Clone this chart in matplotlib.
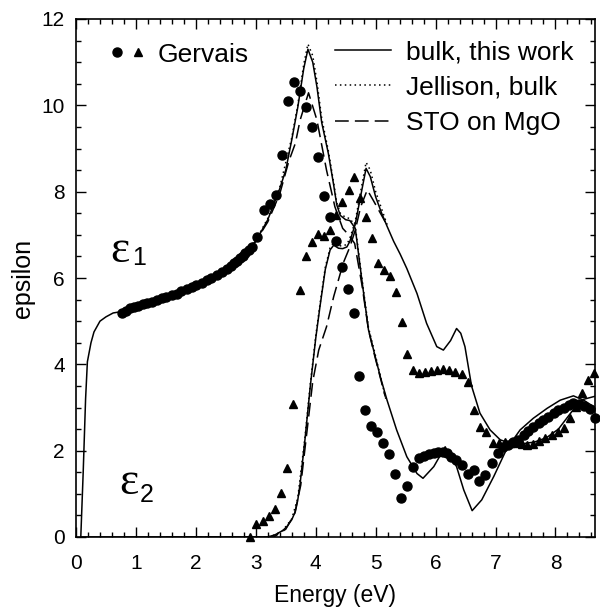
#! /usr/bin/env python3

import matplotlib
matplotlib.use('Agg')
import matplotlib.pyplot as plt
from matplotlib.legend_handler import HandlerTuple
from matplotlib.ticker import MultipleLocator
from matplotlib.lines import Line2D


# bulk, this work (solid)
bulk_e1_x = [0.08, 0.12, 0.16, 0.19, 0.25, 0.3, 0.4, 0.5, 0.62, 0.75, 1.0, 1.25, 1.5, 1.75,
             2.0, 2.25, 2.5, 2.75, 3.0, 3.2, 3.4, 3.5, 3.6, 3.7, 3.8, 3.87, 3.95, 4.02, 4.1,
             4.21, 4.3, 4.35, 4.41, 4.5, 4.57, 4.66, 4.77, 4.88, 4.98, 5.08, 5.19, 5.35, 5.52,
             5.69, 5.79, 5.97, 6.16, 6.35, 6.47, 6.61, 6.77, 6.97, 7.19, 7.41, 7.63, 7.86,
             8.08, 8.3, 8.47, 8.66]
bulk_e1_y = [0.0, 1.5, 3.2, 4.06, 4.5, 4.75, 5.0, 5.1, 5.19, 5.22, 5.33, 5.43, 5.55, 5.69,
             5.84, 6.01, 6.2, 6.47, 6.85, 7.35, 8.07, 8.5, 9.2, 9.95, 10.85, 11.3, 11.0, 10.43,
             9.6, 8.89, 8.15, 7.7, 7.45, 7.35, 7.33, 7.15, 5.95, 4.8, 4.25, 3.7, 3.17, 2.48,
             1.86, 1.47, 1.36, 1.63, 2.09, 1.63, 1.09, 0.61, 0.86, 1.4, 2.05, 2.48, 2.75, 2.98,
             3.17, 3.27, 3.17, 3.0]
bulk_e2_x = [0.08, 3.2, 3.32, 3.45, 3.52, 3.6, 3.66, 3.7, 3.74, 3.82, 3.91, 4.0, 4.07, 4.16,
             4.24, 4.3, 4.38, 4.45, 4.52, 4.57, 4.66, 4.75, 4.84, 4.91, 5.0, 5.1, 5.19, 5.3,
             5.41, 5.52, 5.69, 5.85, 6.02, 6.13, 6.25, 6.35, 6.42, 6.49, 6.6, 6.74, 6.91, 7.08,
             7.25, 7.45, 7.65, 7.85, 8.05, 8.27, 8.47, 8.66]
bulk_e2_y = [0.0, 0.0, 0.05, 0.15, 0.24, 0.4, 0.59, 0.85, 1.24, 2.25, 3.5, 4.6, 5.33, 6.2,
             6.65, 6.76, 6.69, 6.68, 6.72, 6.85, 7.25, 7.9, 8.54, 8.35, 7.88, 7.5, 7.2, 6.85,
             6.55, 6.22, 5.64, 4.95, 4.41, 4.33, 4.55, 4.83, 4.72, 4.41, 3.5, 2.87, 2.48, 2.25,
             2.17, 2.16, 2.2, 2.3, 2.5, 2.9, 3.19, 3.26]

# Jellison, bulk (dotted)
jel_e1_x = [1.5, 2.0, 2.5, 3.0, 3.2, 3.4, 3.6, 3.7, 3.8, 3.87, 3.95, 4.02, 4.1, 4.21, 4.3,
            4.35, 4.41, 4.5, 4.57, 4.66, 4.77, 4.88, 4.98, 5.08, 5.17]
jel_e1_y = [5.55, 5.85, 6.22, 6.87, 7.38, 8.1, 9.25, 10.0, 10.95, 11.42, 11.15, 10.55, 9.7,
            8.95, 8.2, 7.75, 7.5, 7.4, 7.38, 7.2, 6.0, 4.85, 4.3, 3.72, 3.2]
jel_e2_x = [1.5, 3.2, 3.32, 3.45, 3.6, 3.7, 3.82, 3.91, 4.0, 4.07, 4.16, 4.24, 4.3, 4.38,
            4.45, 4.52, 4.57, 4.66, 4.75, 4.84, 4.91, 5.0, 5.1, 5.2]
jel_e2_y = [0.0, 0.0, 0.05, 0.15, 0.42, 0.9, 2.3, 3.55, 4.65, 5.38, 6.25, 6.7, 6.82, 6.75,
            6.74, 6.78, 6.92, 7.32, 8.0, 8.68, 8.5, 8.0, 7.6, 7.2]

# STO on MgO (dashed)
mgo_e1_x = [1.5, 2.0, 2.5, 3.0, 3.2, 3.4, 3.55, 3.66, 3.74, 3.88, 4.02, 4.18, 4.32, 4.45,
            4.55, 4.65, 4.77, 4.88, 4.98, 5.08, 5.16]
mgo_e1_y = [5.55, 5.84, 6.2, 6.85, 7.3, 7.95, 8.7, 9.12, 9.66, 10.29, 9.66, 8.5, 7.65, 7.15,
            7.0, 6.8, 5.85, 4.8, 4.22, 3.68, 3.25]
mgo_e2_x = [1.5, 3.3, 3.5, 3.65, 3.75, 3.85, 3.95, 4.05, 4.18, 4.3, 4.46, 4.57, 4.66, 4.75,
            4.86, 4.96, 5.06, 5.16]
mgo_e2_y = [0.0, 0.0, 0.18, 0.55, 1.2, 2.4, 3.6, 4.33, 4.87, 5.57, 6.35, 6.72, 7.11, 7.65,
            8.04, 7.8, 7.55, 7.3]

# Gervais: eps1 (circles)
gerv_e1_x = [0.76, 0.83, 0.9, 0.97, 1.04, 1.11, 1.18, 1.26, 1.35, 1.43,
             1.51, 1.6, 1.68, 1.76, 1.85, 1.93, 2.01, 2.1, 2.18, 2.26,
             2.35, 2.43, 2.52, 2.58, 2.63, 2.68, 2.74, 2.78, 2.82, 2.88,
             2.93, 3.02, 3.13, 3.23, 3.33, 3.43, 3.54, 3.64, 3.74, 3.83,
             3.93, 4.03, 4.13, 4.23, 4.34, 4.44, 4.54, 4.64, 4.73, 4.82,
             4.92, 5.03, 5.13, 5.23, 5.33, 5.43, 5.53, 5.63, 5.73, 5.81,
             5.89, 5.97, 6.04, 6.12, 6.19, 6.26, 6.34, 6.44, 6.54, 6.64,
             6.73, 6.83, 6.94, 7.04, 7.12, 7.2, 7.3, 7.38, 7.47, 7.55,
             7.63, 7.72, 7.8, 7.88, 7.97, 8.05, 8.14, 8.22, 8.3, 8.39,
             8.47, 8.57, 8.66]
gerv_e1_y = [5.18, 5.24, 5.30, 5.33, 5.36, 5.39, 5.41, 5.45, 5.49, 5.53,
             5.57, 5.60, 5.64, 5.69, 5.74, 5.79, 5.84, 5.89, 5.95, 6.01,
             6.07, 6.14, 6.22, 6.28, 6.34, 6.40, 6.46, 6.51, 6.57, 6.65,
             6.72, 6.96, 7.57, 7.71, 7.92, 8.86, 10.1, 10.55, 10.33, 9.95,
             9.5, 8.81, 7.9, 7.41, 6.86, 6.25, 5.74, 5.2, 3.73, 2.94,
             2.56, 2.44, 2.18, 1.92, 1.45, 0.91, 1.18, 1.63, 1.82, 1.88,
             1.92, 1.95, 1.98, 1.98, 1.94, 1.86, 1.78, 1.67, 1.46, 1.55,
             1.3, 1.44, 1.71, 1.94, 2.08, 2.13, 2.19, 2.25, 2.36, 2.46,
             2.54, 2.63, 2.71, 2.79, 2.87, 2.94, 3.0, 3.06, 3.1, 3.08,
             3.03, 2.96, 2.76]

# Gervais: eps2 (triangles)
gerv_e2_x = [2.9, 3.0, 3.12, 3.22, 3.32, 3.42, 3.52, 3.62,
             3.73, 3.83, 3.93, 4.03, 4.13, 4.24, 4.34, 4.44, 4.55, 4.64,
             4.74, 4.84, 4.94, 5.04, 5.14, 5.24, 5.34, 5.44, 5.53, 5.63,
             5.73, 5.83, 5.93, 6.03, 6.13, 6.23, 6.33, 6.44, 6.54, 6.64,
             6.74, 6.84, 6.95, 7.05, 7.15, 7.25, 7.35, 7.44, 7.53, 7.63,
             7.73, 7.83, 7.94, 8.04, 8.15, 8.25, 8.35, 8.45, 8.55, 8.65]
gerv_e2_y = [0.0, 0.29, 0.36, 0.49, 0.64, 1.01, 1.61, 3.08,
             5.72, 6.5, 6.84, 7.01, 6.97, 7.11, 7.47, 7.77, 8.04, 8.33,
             7.86, 7.41, 6.93, 6.35, 6.19, 6.05, 5.68, 4.98, 4.25, 3.87,
             3.81, 3.83, 3.85, 3.88, 3.89, 3.88, 3.83, 3.77, 3.6, 2.94,
             2.54, 2.44, 2.18, 2.18, 2.21, 2.18, 2.18, 2.15, 2.12, 2.15,
             2.23, 2.29, 2.36, 2.44, 2.52, 2.75, 3.02, 3.34, 3.64, 3.79]

plt.rcParams['font.family'] = ['Liberation Sans', 'DejaVu Sans']

fig = plt.figure(figsize=(6, 6.08), dpi=100)
ax = fig.add_axes([76 / 600, 71 / 608, 519 / 600, 518 / 608])

lw = 1.1
solid = dict(color='black', lw=lw, ls='-')
dotted = dict(color='black', lw=lw, ls=(0, (1, 2.2)))
dashed = dict(color='black', lw=lw, ls=(0, (9, 4)))

l_bulk, = ax.plot(bulk_e1_x, bulk_e1_y, **solid)
ax.plot(bulk_e2_x, bulk_e2_y, **solid)
l_jel, = ax.plot(jel_e1_x, jel_e1_y, **dotted)
ax.plot(jel_e2_x, jel_e2_y, **dotted)
l_mgo, = ax.plot(mgo_e1_x, mgo_e1_y, **dashed)
ax.plot(mgo_e2_x, mgo_e2_y, **dashed)

ax.plot(gerv_e1_x, gerv_e1_y, 'o', color='black', ms=6.5, clip_on=False)
ax.plot(gerv_e2_x, gerv_e2_y, '^', color='black', ms=6, clip_on=False)

ax.set_xlim(0, 8.66)
ax.set_ylim(0, 12)
ax.xaxis.set_major_locator(MultipleLocator(1))
ax.xaxis.set_minor_locator(MultipleLocator(0.2))
ax.yaxis.set_major_locator(MultipleLocator(2))
ax.yaxis.set_minor_locator(MultipleLocator(0.5))
ax.tick_params(which='both', direction='in', top=True, right=True, width=1.0)
ax.tick_params(which='major', length=7, labelsize=15)
ax.tick_params(axis='x', which='major', pad=12)
ax.tick_params(axis='y', which='major', pad=8)
ax.tick_params(which='minor', length=3.5)
for s in ax.spines.values():
    s.set_linewidth(1.2)

ax.set_xlabel('Energy (eV)', fontsize=16.5, labelpad=8)
ax.set_ylabel('epsilon', fontsize=18, labelpad=5)

# epsilon_1 / epsilon_2 labels
ax.text(0.57, 6.37, '\u03b5', fontsize=33, family='Liberation Serif', va='baseline')
ax.text(0.93, 6.3, '1', fontsize=18, va='baseline')
ax.text(0.72, 1.0, '\u03b5', fontsize=33, family='Liberation Serif', va='baseline')
ax.text(1.07, 0.82, '2', fontsize=18, va='baseline')

leg1 = ax.legend([l_bulk, l_jel, l_mgo],
                 ['bulk, this work', 'Jellison, bulk', 'STO on MgO'],
                 loc='upper right', frameon=False, fontsize=19, handlelength=2.1,
                 handletextpad=0.6, labelspacing=0.44, borderpad=0.2, borderaxespad=0.6)
ax.add_artist(leg1)
ax.legend([(Line2D([], [], ls='none', marker='o', color='black', ms=6.5),
            Line2D([], [], ls='none', marker='^', color='black', ms=6))],
          ['Gervais'], handler_map={tuple: HandlerTuple(ndivide=None, pad=0.4)},
          loc='upper left', bbox_to_anchor=(0.0586, 0.9645), frameon=False, fontsize=19,
          handlelength=1.2, handletextpad=0.55, borderpad=0.2, borderaxespad=0.0)

fig.savefig('out.png', dpi=100)
